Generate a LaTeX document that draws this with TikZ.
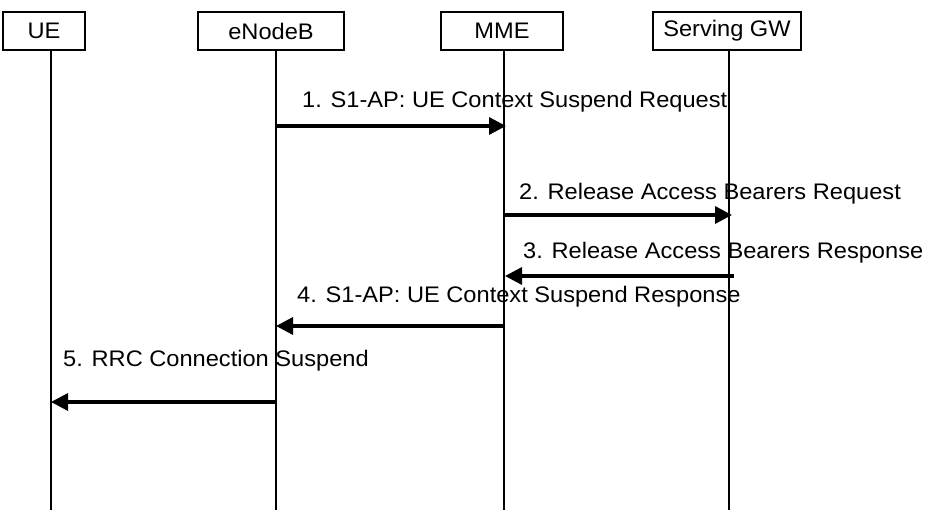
\documentclass[tikz,border=0pt]{standalone}
\usepackage{fontspec}
\setmainfont{Liberation Sans}[FakeStretch=1.05]
\usetikzlibrary{arrows.meta}
\begin{document}
\begin{tikzpicture}[x=1pt,y=-1pt,
  entity/.style={draw,line width=2.2pt,minimum height=38pt,inner sep=0pt,font=\fontsize{22.5}{24}\selectfont},
  lifeline/.style={line width=1.2pt},
  msg/.style={line width=3.3pt,-{Triangle[length=17pt,width=17pt]}},
  msglabel/.style={anchor=west,inner sep=0pt,font=\fontsize{22.5}{24}\selectfont}]
\useasboundingbox (0,0) rectangle (929,510);
% entities
\node[entity,minimum width=82pt] (ue) at (44,31) {UE};
\node[entity,minimum width=146pt] (enb) at (271,31) {eNodeB};
\node[entity,minimum width=122pt] (mme) at (502,31) {MME};
\node[entity,minimum width=148pt] (sgw) at (727,31) {Serving GW};
% lifeline anchors
\coordinate (ueT) at (51,50);   \coordinate (ueB) at (51,510);
\coordinate (enbT) at (276,50); \coordinate (enbB) at (276,510);
\coordinate (mmeT) at (504,50); \coordinate (mmeB) at (504,510);
\coordinate (sgwT) at (729,50); \coordinate (sgwB) at (729,510);
\draw[lifeline] (ueT) -- (ueB);
\draw[lifeline] (enbT) -- (enbB);
\draw[lifeline] (mmeT) -- (mmeB);
\draw[lifeline] (sgwT) -- (sgwB);
% messages
\draw[msg] (enbT |- 0,126) -- ([xshift=2pt]mmeT |- 0,126);
\node[msglabel] (l1) at (302,102) {1. S1-AP: UE Context Suspend Request};
\draw[msg] (mmeT |- 0,215) -- ([xshift=3pt]sgwT |- 0,215);
\node[msglabel] (l2) at (519,194) {2. Release Access Bearers Request};
\draw[msg] ([xshift=5pt]sgwT |- 0,276) -- ([xshift=1pt]mmeT |- 0,276);
\node[msglabel] (l3) at (523,253) {3. Release Access Bearers Response};
\draw[msg] (mmeT |- 0,326) -- (enbT |- 0,326);
\node[msglabel] (l4) at (297,297) {4. S1-AP: UE Context Suspend Response};
\draw[msg] (enbT |- 0,402) -- (ueT |- 0,402);
\node[msglabel] (l5) at (63,361) {5. RRC Connection Suspend};
\end{tikzpicture}
\end{document}
